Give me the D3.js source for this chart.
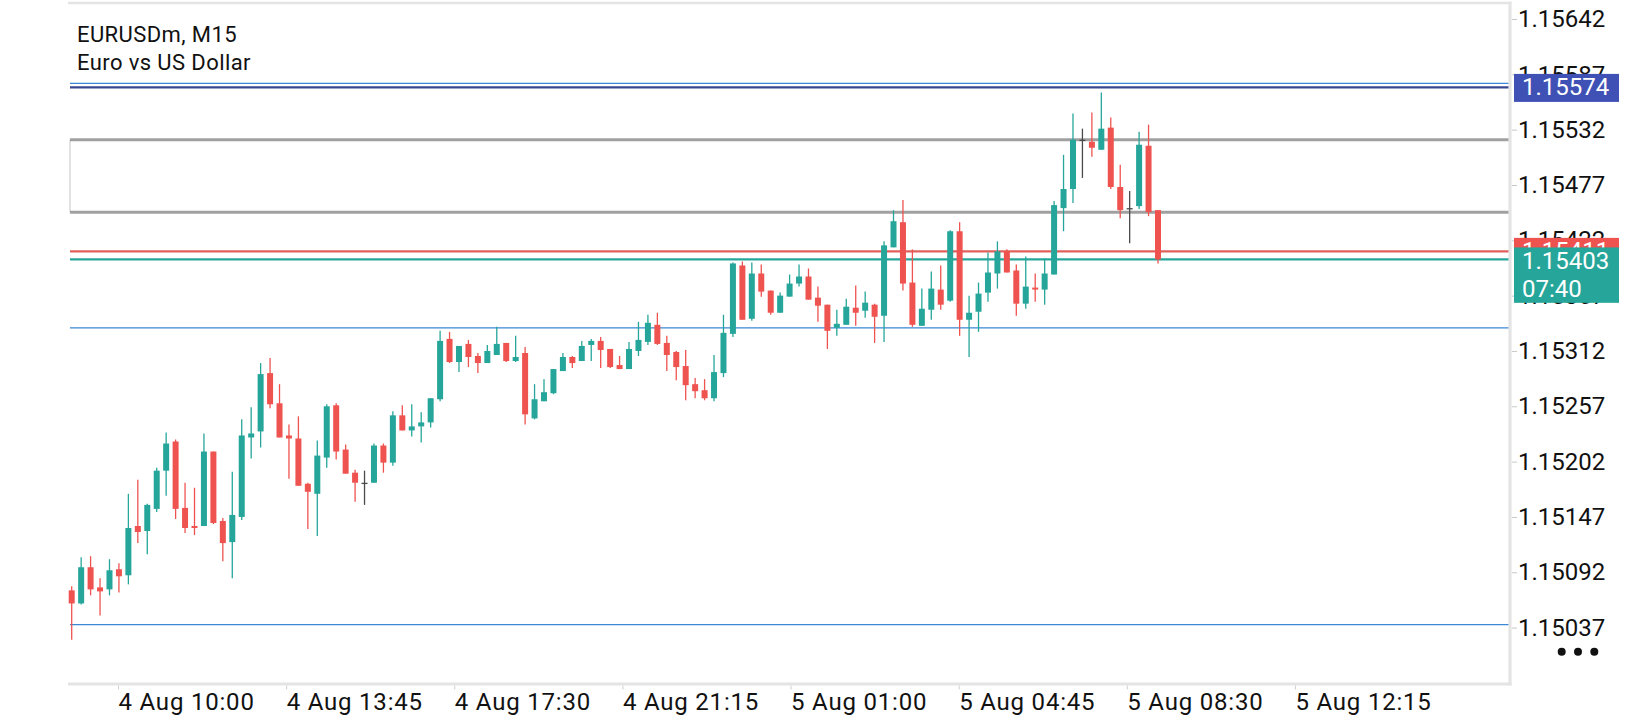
<!DOCTYPE html>
<html><head><meta charset="utf-8">
<script src="https://cdn.jsdelivr.net/npm/d3@7"></script>
<style>
body{margin:0;background:#fff;}
svg{display:block;font-family:Roboto,"Noto Sans",sans-serif;}
</style>
</head><body>
<svg id="chart" width="1640" height="720"></svg>
<script>
// ---- data (EURUSDm, M15) ----
const symbolTitle = "EURUSDm, M15";
const symbolDesc = "Euro vs US Dollar";
const open  = [1.15074,1.15061,1.15097,1.15077,1.15075,1.15095,1.15089,1.15138,1.15133,1.15155,1.15193,1.15222,1.15156,1.15138,1.15138,1.15212,1.15143,1.15122,1.15147,1.15226,1.15232,1.15290,1.15260,1.15228,1.15225,1.15180,1.15170,1.15206,1.15258,1.15214,1.15191,1.15181,1.15181,1.15218,1.15201,1.15248,1.15233,1.15237,1.15241,1.15264,1.15324,1.15301,1.15319,1.15307,1.15300,1.15308,1.15320,1.15302,1.15310,1.15245,1.15262,1.15270,1.15292,1.15306,1.15302,1.15318,1.15322,1.15314,1.15298,1.15294,1.15312,1.15321,1.15338,1.15320,1.15311,1.15297,1.15279,1.15273,1.15265,1.15290,1.15329,1.15397,1.15344,1.15389,1.15372,1.15350,1.15366,1.15379,1.15386,1.15365,1.15358,1.15335,1.15338,1.15355,1.15352,1.15358,1.15347,1.15415,1.15440,1.15380,1.15337,1.15353,1.15373,1.15362,1.15431,1.15343,1.15351,1.15370,1.15389,1.15411,1.15392,1.15359,1.15375,1.15373,1.15388,1.15454,1.15473,1.15522,1.15520,1.15512,1.15534,1.15475,1.15454,1.15456,1.15516,1.15452];
const high  = [1.15078,1.15107,1.15108,1.15086,1.15105,1.15101,1.15170,1.15184,1.15160,1.15196,1.15231,1.15224,1.15181,1.15176,1.15230,1.15212,1.15146,1.15192,1.15244,1.15256,1.15300,1.15305,1.15279,1.15239,1.15247,1.15181,1.15223,1.15259,1.15260,1.15219,1.15194,1.15193,1.15220,1.15220,1.15252,1.15258,1.15259,1.15251,1.15265,1.15332,1.15331,1.15317,1.15323,1.15310,1.15318,1.15336,1.15320,1.15327,1.15316,1.15279,1.15284,1.15294,1.15310,1.15307,1.15322,1.15324,1.15326,1.15314,1.15307,1.15321,1.15341,1.15348,1.15350,1.15327,1.15312,1.15313,1.15285,1.15284,1.15308,1.15348,1.15400,1.15401,1.15400,1.15398,1.15372,1.15370,1.15388,1.15398,1.15394,1.15376,1.15358,1.15353,1.15364,1.15377,1.15371,1.15359,1.15421,1.15452,1.15462,1.15413,1.15374,1.15391,1.15397,1.15432,1.15440,1.15367,1.15380,1.15410,1.15421,1.15413,1.15398,1.15406,1.15389,1.15404,1.15461,1.15507,1.15548,1.15533,1.15549,1.15569,1.15544,1.15497,1.15471,1.15530,1.15537,1.15452];
const low   = [1.15025,1.15060,1.15069,1.15049,1.15069,1.15072,1.15080,1.15121,1.15110,1.15152,1.15168,1.15145,1.15131,1.15129,1.15138,1.15140,1.15103,1.15086,1.15144,1.15205,1.15216,1.15255,1.15226,1.15185,1.15178,1.15135,1.15128,1.15196,1.15204,1.15190,1.15162,1.15159,1.15181,1.15191,1.15198,1.15233,1.15227,1.15221,1.15236,1.15262,1.15300,1.15291,1.15296,1.15290,1.15300,1.15308,1.15301,1.15301,1.15239,1.15244,1.15262,1.15269,1.15292,1.15295,1.15302,1.15302,1.15295,1.15295,1.15294,1.15294,1.15307,1.15318,1.15318,1.15292,1.15283,1.15263,1.15265,1.15263,1.15262,1.15286,1.15326,1.15343,1.15342,1.15366,1.15348,1.15350,1.15366,1.15376,1.15363,1.15341,1.15314,1.15327,1.15338,1.15337,1.15345,1.15320,1.15321,1.15415,1.15372,1.15336,1.15337,1.15343,1.15353,1.15361,1.15327,1.15306,1.15331,1.15361,1.15374,1.15390,1.15347,1.15354,1.15361,1.15358,1.15388,1.15431,1.15459,1.15484,1.15505,1.15512,1.15473,1.15444,1.15419,1.15453,1.15446,1.15399];
const close = [1.15061,1.15097,1.15075,1.15073,1.15094,1.15088,1.15136,1.15132,1.15159,1.15193,1.15220,1.15155,1.15136,1.15136,1.15212,1.15141,1.15121,1.15149,1.15228,1.15230,1.15289,1.15259,1.15226,1.15225,1.15178,1.15172,1.15208,1.15257,1.15212,1.15190,1.15181,1.15181,1.15218,1.15201,1.15248,1.15233,1.15237,1.15241,1.15265,1.15322,1.15301,1.15317,1.15306,1.15300,1.15312,1.15319,1.15302,1.15306,1.15249,1.15264,1.15271,1.15294,1.15306,1.15300,1.15317,1.15322,1.15313,1.15296,1.15294,1.15314,1.15323,1.15340,1.15319,1.15308,1.15296,1.15278,1.15272,1.15265,1.15291,1.15330,1.15399,1.15343,1.15389,1.15371,1.15350,1.15367,1.15379,1.15386,1.15363,1.15357,1.15332,1.15339,1.15356,1.15350,1.15360,1.15346,1.15417,1.15441,1.15379,1.15338,1.15354,1.15374,1.15358,1.15431,1.15343,1.15350,1.15369,1.15390,1.15411,1.15390,1.15359,1.15376,1.15373,1.15389,1.15457,1.15473,1.15522,1.15522,1.15514,1.15533,1.15475,1.15452,1.15454,1.15517,1.15450,1.15403];

const priceTicks = [1.15642,1.15587,1.15532,1.15477,1.15422,1.15367,1.15312,1.15257,1.15202,1.15147,1.15092,1.15037];
const timeLabels = ["4 Aug 10:00","4 Aug 13:45","4 Aug 17:30","4 Aug 21:15","5 Aug 01:00","5 Aug 04:45","5 Aug 08:30","5 Aug 12:15"];
const timeLabelBars = [4.9,22.7,40.5,58.3,76.1,93.9,111.7,129.5];

const thinBlueLevels = [1.15578,1.15335,1.15040];
const navyLevel = 1.15574;
const zoneLevels = [1.15522,1.15450];
const askLevel = 1.15411;
const bidLevel = 1.15403;
const countdown = "07:40";

// ---- layout ----
const svg = d3.select("#chart");
const W = 1640, H = 720;
const plot = {left:68, right:1510, top:3, bottom:684};
const UP = "#26a69a", DOWN = "#ef5350", DOJI = "#4a4a4a";

const bars = open.map((o,i)=>({i, o, h:high[i], l:low[i], c:close[i]}));
const x = d3.scaleLinear().domain([0, bars.length-1]).range([71.7, 1158]);
const y = d3.scaleLinear().domain([1.15037, 1.15642]).range([627.6, 19]);

svg.append("rect").attr("width",W).attr("height",H).attr("fill","#fff");

// title
svg.append("text").attr("x",77).attr("y",42).attr("font-size",22).attr("letter-spacing","0.4px").attr("fill","#111").text(symbolTitle);
svg.append("text").attr("x",77).attr("y",70).attr("font-size",22).attr("letter-spacing","0.4px").attr("fill","#111").text(symbolDesc);

// level lines
const lineX1 = 70, lineX2 = plot.right - 1;
svg.selectAll(".thinblue").data(thinBlueLevels).join("line")
  .attr("x1",lineX1).attr("x2",lineX2).attr("y1",d=>y(d)).attr("y2",d=>y(d))
  .attr("stroke","#3a87d6").attr("stroke-width",1.2);
svg.append("line").attr("x1",lineX1).attr("x2",lineX2).attr("y1",y(navyLevel)).attr("y2",y(navyLevel))
  .attr("stroke","#38488f").attr("stroke-width",2.2);
// zone rectangle
svg.append("line").attr("x1",lineX1).attr("x2",lineX1).attr("y1",y(zoneLevels[0])).attr("y2",y(zoneLevels[1]))
  .attr("stroke","#c4c4c4").attr("stroke-width",1);
svg.selectAll(".zone").data(zoneLevels).join("line")
  .attr("x1",lineX1).attr("x2",lineX2).attr("y1",d=>y(d)).attr("y2",d=>y(d))
  .attr("stroke","#a0a0a0").attr("stroke-width",3);
svg.append("line").attr("x1",lineX1).attr("x2",lineX2).attr("y1",y(askLevel)).attr("y2",y(askLevel))
  .attr("stroke","#e0615c").attr("stroke-width",2.2);
svg.append("line").attr("x1",lineX1).attr("x2",lineX2).attr("y1",y(bidLevel)).attr("y2",y(bidLevel))
  .attr("stroke",UP).attr("stroke-width",2.2);

// candles
const colorOf = d => d.c > d.o ? UP : (d.c < d.o ? DOWN : DOJI);
const g = svg.append("g");
g.selectAll(".wick").data(bars).join("line")
  .attr("x1",d=>x(d.i)).attr("x2",d=>x(d.i)).attr("y1",d=>y(d.h)).attr("y2",d=>y(d.l))
  .attr("stroke",colorOf).attr("stroke-width",1.3);
const bw = 6;
g.selectAll(".body").data(bars).join("rect")
  .attr("x",d=>x(d.i)-bw/2).attr("width",bw)
  .attr("y",d=>y(Math.max(d.o,d.c)))
  .attr("height",d=>Math.max(1.3, Math.abs(y(d.o)-y(d.c))))
  .attr("fill",colorOf);

// frame
const frameC = "#e4e4e4";
svg.append("line").attr("x1",plot.left).attr("x2",plot.right+1.5).attr("y1",plot.top).attr("y2",plot.top).attr("stroke",frameC).attr("stroke-width",2.6);
svg.append("line").attr("x1",plot.right).attr("x2",plot.right).attr("y1",plot.top-1.3).attr("y2",plot.bottom+1.5).attr("stroke",frameC).attr("stroke-width",3.2);
svg.append("line").attr("x1",plot.left).attr("x2",plot.right+1.5).attr("y1",plot.bottom).attr("y2",plot.bottom).attr("stroke",frameC).attr("stroke-width",3);

// price axis
const yAxis = d3.axisRight(y).tickValues(priceTicks).tickFormat(d3.format(".5f")).tickSize(5).tickPadding(1);
const ya = svg.append("g").attr("transform",`translate(${plot.right+2},0)`).call(yAxis);
ya.select(".domain").remove();
ya.selectAll(".tick line").attr("stroke","#c8c8c8");
ya.selectAll(".tick text").attr("font-size",24).attr("fill","#111").attr("font-family","Roboto");

// time axis
const xAxis = d3.axisBottom(x).tickValues(timeLabelBars).tickFormat((d,i)=>timeLabels[i]).tickSize(4);
const xa = svg.append("g").attr("transform",`translate(0,${plot.bottom+1.5})`).call(xAxis);
xa.select(".domain").remove();
xa.selectAll(".tick line").attr("stroke","#d0d0d0");
xa.selectAll(".tick text").attr("font-size",24).attr("fill","#111").attr("font-family","Roboto")
  .attr("text-anchor","start").attr("y",24.5).attr("dy",0).attr("letter-spacing","0.8px");

// price tags
const tagX = 1514, tagW = 105;
function tag(price, fill, lines, h, top){
  svg.append("rect").attr("x",tagX).attr("y",y(price)-top).attr("width",tagW).attr("height",h).attr("fill",fill);
  lines.forEach((t,k)=>{
    svg.append("text").attr("x",tagX+8).attr("y",y(price)-top+21.5+k*28).attr("font-size",24).attr("fill","#fff").text(t);
  });
}
tag(askLevel, DOWN, [d3.format(".5f")(askLevel)], 27.5, 13.5);
tag(bidLevel, UP, [d3.format(".5f")(bidLevel), countdown], 55.4, 12);
tag(navyLevel, "#3f51b5", [d3.format(".5f")(navyLevel)], 28, 13.5);

// menu dots
svg.selectAll(".dot").data([0,1,2]).join("circle")
  .attr("cx",d=>1561.7+d*16.3).attr("cy",651.7).attr("r",4).attr("fill","#111");
</script>
</body></html>
